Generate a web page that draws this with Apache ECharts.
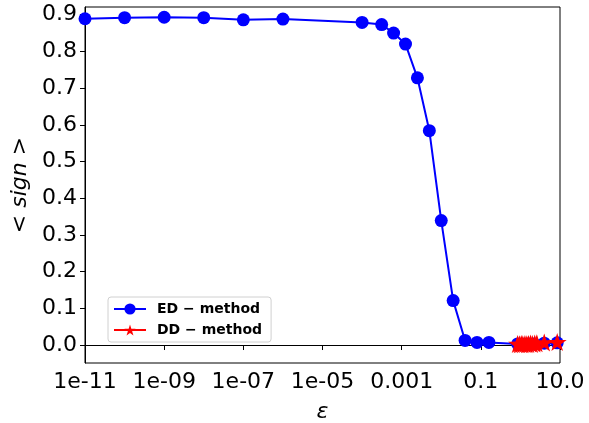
<!DOCTYPE html>
<html>
<head>
<meta charset="utf-8">
<script src="https://cdn.jsdelivr.net/npm/echarts@6/dist/echarts.min.js"></script>
<style>
  html, body { margin: 0; padding: 0; background: #fff; }
  #chart { width: 589px; height: 423px; }
</style>
</head>
<body>
<div id="chart"></div>
<script>
// Average sign versus epsilon for the two methods
const edEps = [1e-11, 1e-10, 1e-9, 1e-8, 1e-7, 1e-6, 1e-4, 3.125e-4, 6.25e-4, 1.25e-3,
               2.5e-3, 5e-3, 0.01, 0.02, 0.04, 0.08, 0.16, 0.85, 1.2, 1.6, 2.2, 4.0, 8.5];
const edSign = [0.889, 0.892, 0.893, 0.892, 0.886, 0.888, 0.879, 0.873, 0.850, 0.820,
                0.728, 0.584, 0.339, 0.121, 0.0125, 0.007, 0.007, 0.003, 0.002, 0.003, 0.003, 0.005, 0.006];

const ddEps = [0.85, 0.95, 1.05, 1.15, 1.3, 1.45, 1.6, 1.8, 2.0, 2.3, 2.6, 4.0, 8.5];
const ddSign = [0.003, 0.002, 0.003, 0.002, 0.003, 0.002, 0.003, 0.004, 0.003, 0.004, 0.005, 0.007, 0.008];

const xTickValues = [1e-11, 1e-9, 1e-7, 1e-5, 1e-3, 0.1, 10];
const xTickLabels = ['1e-11', '1e-09', '1e-07', '1e-05', '0.001', '0.1', '10.0'];
const yTickValues = [0, 0.1, 0.2, 0.3, 0.4, 0.5, 0.6, 0.7, 0.8, 0.9];

const seriesNames = ['ED \u2212 method', 'DD \u2212 method'];

const starPath = 'path://M50 0 L61.23 34.55 L97.55 34.55 L68.17 55.9 L79.39 90.45 L50 69.1 L20.61 90.45 L31.83 55.9 L2.45 34.55 L38.77 34.55 Z';

const font = 'DejaVu Sans';
const chart = echarts.init(document.getElementById('chart'), null, { renderer: 'canvas' });

chart.setOption({
  animation: false,
  backgroundColor: '#fff',
  grid: {
    left: 85, right: 29, top: 7, bottom: 60,
    outerBoundsMode: 'none', containLabel: false,
    show: true, borderColor: '#000', borderWidth: 1, backgroundColor: 'transparent'
  },
  legend: {
    left: 108, top: 297,
    orient: 'vertical',
    itemWidth: 32, itemHeight: 14, itemGap: 7,
    padding: [5, 9, 5, 5],
    backgroundColor: 'rgba(255,255,255,0.8)',
    borderColor: '#d0d0d0', borderWidth: 1, borderRadius: 3,
    textStyle: { fontFamily: font, fontWeight: 'bold', fontSize: 14, color: '#000', padding: [0, 0, 0, 6] },
    data: seriesNames
  },
  xAxis: {
    type: 'log', logBase: 10, min: 1e-11, max: 10,
    name: '\u03b5', nameLocation: 'middle', nameGap: 38,
    nameTextStyle: { fontFamily: font, fontStyle: 'italic', fontSize: 22, color: '#000' },
    axisLine: { show: true, lineStyle: { color: '#000', width: 1 } },
    axisTick: { show: true, length: 5, lineStyle: { color: '#000' }, customValues: xTickValues },
    axisLabel: {
      fontFamily: font, fontSize: 22, color: '#000', margin: 8,
      customValues: xTickValues,
      formatter: v => {
        const i = xTickValues.findIndex(t => Math.abs(Math.log10(t) - Math.log10(v)) < 1e-6);
        return i >= 0 ? xTickLabels[i] : '';
      }
    },
    minorTick: { show: false },
    splitLine: { show: false }
  },
  yAxis: {
    type: 'value', min: -0.049, max: 0.921,
    name: '{a|<}{b| sign }{a|>}', nameLocation: 'middle', nameGap: 48, nameRotate: 90,
    nameTextStyle: {
      color: '#000',
      rich: {
        a: { fontFamily: font, fontSize: 22, color: '#000' },
        b: { fontFamily: font, fontStyle: 'italic', fontSize: 22, color: '#000' }
      }
    },
    axisLine: { show: true, lineStyle: { color: '#000', width: 1 } },
    axisTick: { show: true, length: 5, lineStyle: { color: '#000' }, customValues: yTickValues },
    axisLabel: {
      fontFamily: font, fontSize: 22, color: '#000', margin: 8,
      customValues: yTickValues,
      formatter: v => v.toFixed(1)
    },
    splitLine: { show: false }
  },
  series: [
    {
      name: seriesNames[0], type: 'line',
      data: edEps.map((x, i) => [x, edSign[i]]),
      symbol: 'circle', symbolSize: 13,
      itemStyle: { color: '#0000ff' },
      lineStyle: { color: '#0000ff', width: 2 },
      z: 2
    },
    {
      name: seriesNames[1], type: 'line',
      data: ddEps.map((x, i) => [x, ddSign[i]]),
      symbol: starPath, symbolKeepAspect: true, symbolSize: 19,
      itemStyle: { color: '#ff0000' },
      lineStyle: { color: '#ff0000', width: 2 },
      z: 3
    }
  ]
});
</script>
</body>
</html>
